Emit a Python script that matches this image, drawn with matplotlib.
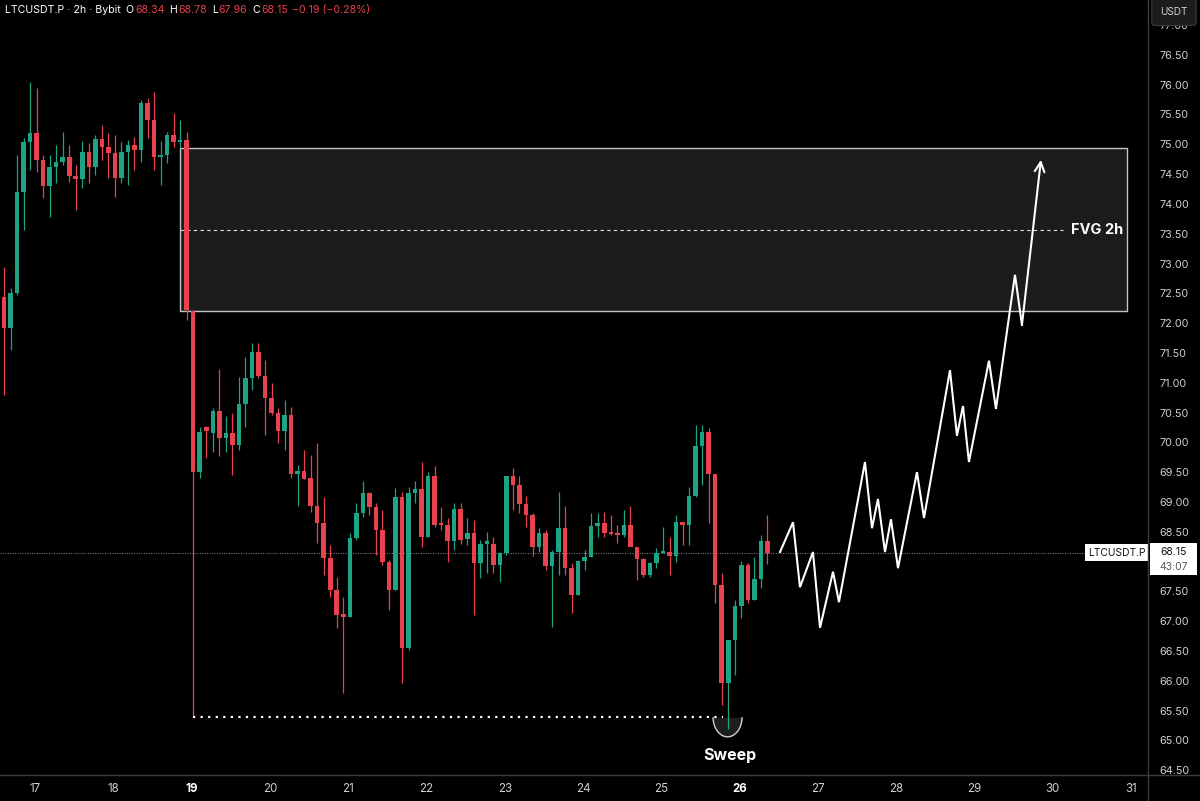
import numpy as np
import matplotlib
matplotlib.use("Agg")
import matplotlib.pyplot as plt
from matplotlib.patches import Rectangle, Arc
from matplotlib.lines import Line2D

plt.rcParams["font.family"] = ["Inter", "DejaVu Sans"]

W, H, DPI = 1200, 801, 100
BG = "#000000"
UP, DOWN = "#1ea385", "#e9424f"
AXIS_TXT = "#cfcfcf"

# ---- LTCUSDT.P 2h bars (Bybit) ----
FIRST_BAR_DAY = 16.604   # day-of-month position of the first visible bar
BAR_DAYS = 1 / 12        # 2h bars

opens = [72.44, 71.92, 72.51, 74.20, 75.04, 75.19, 74.74, 74.30, 74.62, 74.70,
         74.79, 74.47, 74.42, 74.87, 74.62, 75.09, 74.96, 74.86, 74.44, 74.87,
         74.99, 74.91, 75.69, 75.41, 74.79, 74.82, 75.16, 75.04, 75.07, 72.20,
         69.50, 70.25, 70.16, 70.53, 70.07, 70.16, 69.96, 70.64, 71.08, 71.52,
         71.11, 70.74, 70.49, 70.19, 70.46, 69.47, 69.52, 69.40, 68.93, 68.65,
         68.06, 67.52, 67.12, 67.07, 68.40, 68.82, 69.15, 68.92, 68.53, 67.99,
         67.52, 69.08, 66.55, 69.15, 69.22, 68.41, 69.44, 68.65, 68.61, 68.35,
         68.88, 68.38, 68.48, 67.98, 68.30, 68.30, 67.94, 68.14, 69.44, 69.29,
         68.97, 68.78, 68.24, 68.48, 67.92, 68.16, 68.56, 67.89, 67.44, 68.01,
         68.08, 68.60, 68.65, 68.49, 68.48, 68.44, 68.61, 68.24, 68.05, 67.77,
         67.98, 68.14, 68.16, 68.09, 68.66, 68.61, 69.10, 69.94, 70.18, 69.47,
         67.61, 65.96, 66.68, 67.25, 67.94, 67.36, 67.71, 68.34]
highs = [72.94, 72.59, 74.82, 75.11, 76.05, 75.95, 74.82, 74.82, 74.99, 75.21,
         74.99, 74.65, 75.06, 75.02, 75.16, 75.33, 75.19, 75.16, 75.04, 75.07,
         75.12, 75.74, 75.78, 75.88, 75.06, 75.21, 75.53, 75.41, 75.21, 72.22,
         70.26, 70.27, 70.58, 71.23, 70.44, 70.49, 71.10, 71.43, 71.67, 71.67,
         71.38, 71.00, 70.58, 70.71, 70.59, 69.62, 69.87, 69.79, 69.99, 69.08,
         68.28, 67.74, 67.41, 68.48, 68.98, 69.35, 69.17, 68.98, 68.87, 68.03,
         69.23, 69.17, 69.25, 69.35, 69.67, 69.50, 69.60, 68.92, 68.73, 68.98,
         68.98, 68.73, 68.70, 68.36, 68.50, 68.41, 68.16, 69.44, 69.57, 69.44,
         69.10, 68.82, 68.56, 68.53, 68.19, 69.17, 68.93, 67.98, 68.03, 68.19,
         68.82, 68.82, 68.83, 68.78, 68.61, 68.87, 68.93, 68.24, 68.06, 68.00,
         68.23, 68.58, 68.41, 68.78, 68.66, 69.25, 70.29, 70.29, 70.24, 69.47,
         67.81, 66.68, 67.36, 68.01, 67.98, 68.08, 68.45, 68.78]
lows = [70.80, 71.55, 72.47, 73.56, 74.57, 74.54, 74.10, 73.78, 74.35, 74.65,
        74.37, 73.90, 74.27, 74.35, 74.49, 74.74, 74.44, 74.12, 74.35, 74.32,
        74.57, 74.70, 75.11, 74.57, 74.32, 74.69, 74.96, 74.94, 72.05, 65.39,
        69.40, 69.73, 69.84, 69.77, 69.84, 69.45, 69.87, 70.26, 70.88, 71.08,
        70.12, 70.46, 69.99, 69.87, 69.40, 68.93, 69.39, 68.83, 68.31, 67.78,
        67.41, 66.89, 65.80, 67.07, 68.36, 68.75, 68.78, 68.11, 67.94, 67.19,
        67.52, 65.96, 66.52, 68.98, 68.24, 68.41, 68.58, 68.53, 68.00, 68.19,
        68.30, 68.28, 67.10, 67.72, 67.81, 67.81, 67.66, 68.11, 68.87, 68.82,
        68.58, 68.09, 68.16, 67.86, 66.90, 67.78, 67.78, 67.14, 67.44, 67.86,
        68.08, 68.41, 68.41, 68.45, 68.31, 68.41, 68.36, 67.69, 67.74, 67.74,
        67.89, 68.14, 67.78, 67.99, 68.28, 68.28, 69.08, 69.29, 68.65, 67.31,
        65.60, 65.19, 66.10, 67.05, 67.31, 67.36, 67.56, 67.96]
closes = [71.92, 72.51, 74.20, 75.04, 75.19, 74.74, 74.30, 74.62, 74.70, 74.79,
          74.47, 74.42, 74.87, 74.62, 75.09, 74.96, 74.86, 74.44, 74.87, 74.99,
          74.91, 75.69, 75.41, 74.79, 74.82, 75.16, 75.04, 75.07, 72.22, 69.50,
          70.17, 70.19, 70.53, 70.07, 70.16, 69.96, 70.64, 71.08, 71.52, 71.11,
          70.74, 70.49, 70.19, 70.46, 69.47, 69.52, 69.39, 68.93, 68.65, 68.06,
          67.52, 67.10, 67.07, 68.40, 68.82, 69.15, 68.92, 68.53, 67.99, 67.52,
          69.08, 66.55, 69.15, 69.22, 68.41, 69.44, 68.61, 68.61, 68.35, 68.88,
          68.36, 68.48, 67.98, 68.30, 68.35, 67.94, 68.14, 69.44, 69.29, 68.97,
          68.78, 68.24, 68.48, 67.92, 68.16, 68.56, 67.89, 67.44, 68.01, 68.08,
          68.60, 68.65, 68.48, 68.46, 68.44, 68.61, 68.24, 68.05, 67.77, 67.98,
          68.14, 68.16, 68.09, 68.66, 68.61, 69.10, 69.94, 70.18, 69.47, 67.61,
          65.96, 66.68, 67.25, 67.94, 67.36, 67.71, 68.35, 68.15]

# hand-drawn projection (day, price)
proj_days = [26.515, 26.681, 26.770, 26.936, 27.026, 27.192, 27.268, 27.600,
             27.690, 27.766, 27.856, 27.932, 28.022, 28.264, 28.354, 28.686,
             28.775, 28.852, 28.928, 29.184, 29.273, 29.516, 29.605]
proj_prices = [68.16, 68.66, 67.57, 68.16, 66.89, 67.83, 67.32, 69.67,
               68.56, 69.05, 68.16, 68.71, 67.89, 69.50, 68.73, 71.21,
               70.11, 70.61, 69.67, 71.37, 70.56, 72.81, 71.97]
proj_target = (29.848, 74.74)

fvg_top, fvg_bottom = 74.94, 72.20
fvg_start, fvg_end = 18.852, 30.946
fvg_mid_end = 30.13
sweep_level = 65.39
sweep_start, sweep_end = 19.018, 25.787
sweep_center, sweep_halfwidth, sweep_depth = 25.845, 0.185, 0.33

last_price = 68.15
countdown = "43:07"
header_ohlc = [("O", "68.34"), ("H", "68.78"), ("L", "67.96"), ("C", "68.15")]
header_change = "\u22120.19 (\u22120.28%)"

day_ticks = [17, 18, 19, 20, 21, 22, 23, 24, 25, 26, 27, 28, 29, 30, 31]
bold_days = [19, 26]
price_ticks = [64.5, 65.0, 65.5, 66.0, 66.5, 67.0, 67.5, 68.0, 68.5, 69.0,
               69.5, 70.0, 70.5, 71.0, 71.5, 72.0, 72.5, 73.0, 73.5, 74.0,
               74.5, 75.0, 75.5, 76.0, 76.5, 77.0]
hidden_price_ticks = [68.0]   # covered by the last-price tag

# ---- figure ----
fig = plt.figure(figsize=(W / DPI, H / DPI), dpi=DPI, facecolor=BG)
ax = fig.add_axes([0, 26 / H, 1148 / W, 775 / H], facecolor=BG)
ax.set_xlim(16.553, 31.215)
ax.set_ylim(64.42, 77.42)

# FVG zone
ax.add_patch(Rectangle((fvg_start, fvg_bottom), fvg_end - fvg_start, fvg_top - fvg_bottom,
                       fc="#1c1c1c", ec="#c4c4c4", lw=1.0, zorder=1))
ax.plot([fvg_start, fvg_mid_end], [(fvg_top + fvg_bottom) / 2] * 2, color="#e0e0e0",
        lw=0.8, ls=(0, (3, 3)), zorder=2)
ax.text(fvg_mid_end + 0.1, (fvg_top + fvg_bottom) / 2, "FVG 2h", color="white",
        fontsize=10.5, fontweight="bold", va="center", ha="left", zorder=6)

# last price dotted line
ax.axhline(last_price, color="#8a8a8a", lw=0.7, ls=(0, (1, 1.5)), zorder=1.5)

# candles
x = FIRST_BAR_DAY + np.arange(len(opens)) * BAR_DAYS
o, h, l, c = map(np.array, (opens, highs, lows, closes))
cols = np.where(c >= o, UP, DOWN)
ax.vlines(x, l, h, colors=cols, lw=0.9, zorder=3)
body_lo = np.minimum(o, c)
body_h = np.maximum(np.abs(c - o), 0.03)
ax.bar(x, body_h, width=0.058, bottom=body_lo, color=cols, lw=0, zorder=4)

# sweep marker
ax.plot([sweep_start, sweep_end], [sweep_level] * 2, color="white", lw=1.6,
        ls=(0, (1, 2.4)), zorder=5)
t = np.linspace(np.pi, 2 * np.pi, 60)
sx = sweep_center + sweep_halfwidth * np.cos(t)
sy = sweep_level + sweep_depth * np.sin(t)
ax.fill_between(sx, sy, sweep_level, color="#1e1e1e", lw=0, zorder=2.5)
ax.add_patch(Arc((sweep_center, sweep_level), 2 * sweep_halfwidth, 2 * sweep_depth,
                 theta1=180, theta2=360, color="#d0d0d0", lw=1.0, zorder=5))
ax.text(sweep_center + 0.03, 64.74, "Sweep", color="white", fontsize=11.5,
        fontweight="bold", ha="center", va="center", zorder=6)

# projection path
ax.plot(proj_days, proj_prices, color="white", lw=1.5, solid_joinstyle="miter", zorder=6)
ax.annotate("", xy=proj_target, xytext=(proj_days[-1], proj_prices[-1]),
            arrowprops=dict(arrowstyle="->,head_length=0.7,head_width=0.35",
                            color="white", lw=1.5, shrinkA=0, shrinkB=0), zorder=6)

# axes styling
for sp in ax.spines.values():
    sp.set_visible(False)
ax.yaxis.tick_right()
ax.set_yticks(price_ticks)
ax.set_yticklabels(["" if p in hidden_price_ticks else f"{p:.2f}" for p in price_ticks])
ax.tick_params(axis="y", length=0, pad=8.5, labelsize=7.8, labelcolor=AXIS_TXT)
ax.set_xticks(day_ticks)
ax.set_xticklabels([str(d) for d in day_ticks])
ax.tick_params(axis="x", length=0, pad=6, labelsize=8.3, labelcolor=AXIS_TXT)
for lab, d in zip(ax.get_xticklabels(), day_ticks):
    if d in bold_days:
        lab.set_fontweight("bold")
        lab.set_color("white")

fig.add_artist(Line2D([0, 1], [26 / H, 26 / H], color="#3c3c3c", lw=1.0))
fig.add_artist(Line2D([1148 / W, 1148 / W], [0, 1], color="#3c3c3c", lw=1.0))

# last-price labels
yt = ax.get_yaxis_transform()
ax.text(1 - 2.5 / 1148, last_price, "LTCUSDT.P", transform=yt, ha="right", va="center",
        fontsize=7.4, color="#111111", zorder=8, clip_on=False,
        bbox=dict(boxstyle="square,pad=0.32", fc="white", ec="none"))
ax.add_patch(Rectangle((1.0018, 67.77), 0.041, 0.55, transform=yt, fc="white",
                       ec="none", zorder=7, clip_on=False))
ax.text(1.0225, last_price + 0.01, f"{last_price:.2f}", transform=yt, ha="center",
        va="center", fontsize=7.5, color="#111111", zorder=8, clip_on=False)
ax.text(1.0225, 67.91, countdown, transform=yt, ha="center", va="center",
        fontsize=7.5, color="#5a5a5a", zorder=8, clip_on=False)

# USDT unit box
fig.text(1174 / W, 1 - 12 / H, "USDT", ha="center", va="center", fontsize=7.2,
         color="#d0d0d0", zorder=10,
         bbox=dict(boxstyle="round,pad=0.85,rounding_size=0.35", fc="#1c1c1c",
                   ec="#3a3a3a", lw=0.8))

# header legend
renderer = fig.canvas.get_renderer()
pieces = [("LTCUSDT.P \u00b7 2h \u00b7 Bybit", "white", 5)]
for k, v in header_ohlc:
    pieces.append((k, "white", 5))
    pieces.append((v, DOWN, 0))
pieces.append((header_change, DOWN, 4))
xpx = 5
for i, (txt, col, gap) in enumerate(pieces):
    if i > 0:
        xpx += gap
    tt = fig.text(xpx / W, 1 - 10 / H, txt, color=col, fontsize=7.6, va="center",
                  ha="left", zorder=10)
    xpx += tt.get_window_extent(renderer=renderer).width
    if txt in "OHLC":
        xpx += 1

fig.savefig("out.png", dpi=DPI, facecolor=BG)
